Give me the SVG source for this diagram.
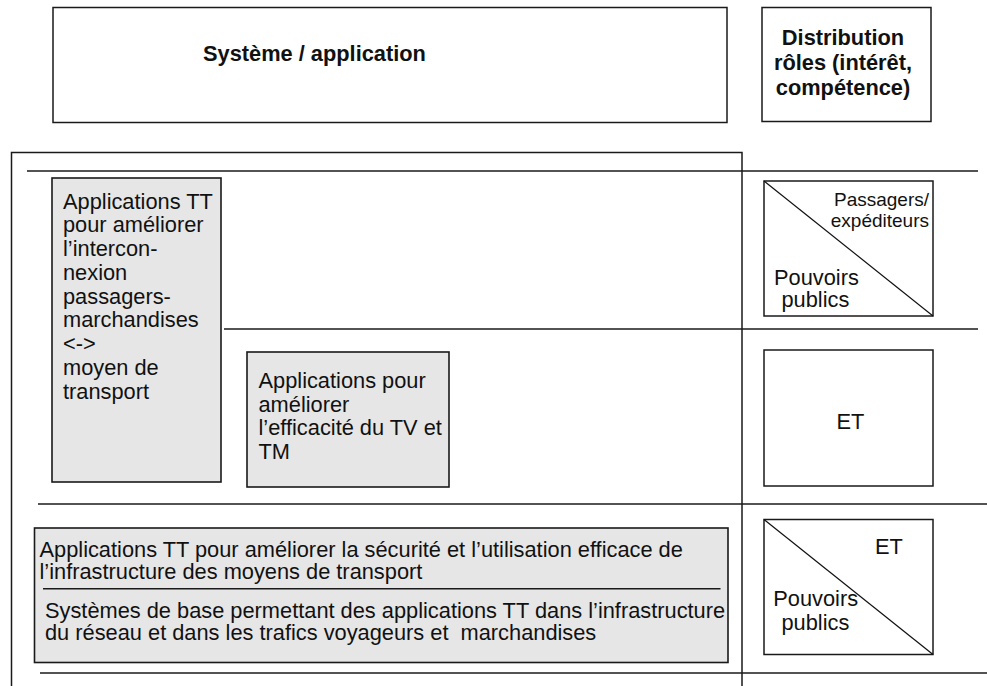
<svg xmlns="http://www.w3.org/2000/svg" width="987" height="686" viewBox="0 0 987 686">
<style>
text{font-family:"Liberation Sans",Arial,Helvetica,sans-serif;font-size:21.8px;fill:#111}
.b{font-weight:bold}
.sm{font-size:19px}
.box{fill:#fff;stroke:#1a1a1a;stroke-width:1.5}
.gbox{fill:#e6e6e6;stroke:#1a1a1a;stroke-width:1.6}
.ln{stroke:#1a1a1a;stroke-width:1.5;fill:none}
.thin{stroke:#111;stroke-width:1.2;fill:none}
</style>
<rect width="987" height="686" fill="#fff"/>
<g id="connectors">
<path class="ln" d="M11.5,686 V152.5 H742 V686"/>
<line class="ln" x1="27" y1="171" x2="978" y2="171"/>
<line class="ln" x1="224" y1="329" x2="978" y2="329"/>
<line class="ln" x1="38" y1="504" x2="987" y2="504"/>
<line class="ln" x1="40" y1="673" x2="987" y2="673"/>
</g>
<g id="header-system">
<rect class="box" x="53" y="7.5" width="674" height="115"/>
<text class="b" x="203" y="61">Système / application</text>
</g>
<g id="header-roles">
<rect class="box" x="762" y="7.5" width="169" height="114"/>
<text class="b" text-anchor="middle"><tspan x="843" y="45">Distribution</tspan><tspan x="843" y="70">rôles (intérêt,</tspan><tspan x="843" y="95">compétence)</tspan></text>
</g>
<g id="app-interconnexion">
<rect class="gbox" x="52" y="178" width="169" height="304"/>
<text><tspan x="63" y="208.6">Applications TT</tspan><tspan x="63" y="232.3">pour améliorer</tspan><tspan x="63" y="256">l’intercon-</tspan><tspan x="63" y="279.8">nexion</tspan><tspan x="63" y="303.6">passagers-</tspan><tspan x="63" y="327.4">marchandises</tspan><tspan x="63" y="351.2">&lt;-&gt;</tspan><tspan x="63" y="375">moyen de</tspan><tspan x="63" y="398.7">transport</tspan></text>
</g>
<g id="app-efficacite">
<rect class="gbox" x="247" y="352" width="202" height="135"/>
<text><tspan x="258.5" y="388">Applications pour</tspan><tspan x="258.5" y="411.7">améliorer</tspan><tspan x="258.5" y="435.4">l’efficacité du TV et</tspan><tspan x="258.5" y="459">TM</tspan></text>
</g>
<g id="app-infrastructure">
<rect class="gbox" x="34.5" y="528" width="693.5" height="134.5"/>
<text><tspan x="39.5" y="556.5">Applications TT pour améliorer la sécurité et l’utilisation efficace de</tspan><tspan x="39.5" y="578.5">l’infrastructure des moyens de transport</tspan></text>
<line class="ln" x1="43" y1="588.7" x2="720.5" y2="588.7"/>
<text xml:space="preserve"><tspan x="45" y="617.5">Systèmes de base permettant des applications TT dans l’infrastructure</tspan><tspan x="45" y="639.5">du réseau et dans les trafics voyageurs et  marchandises</tspan></text>
</g>
<g id="role-1">
<rect class="box" x="764" y="181" width="169" height="135"/>
<line class="thin" x1="764" y1="181" x2="933" y2="316"/>
<text class="sm" text-anchor="end"><tspan x="929" y="206">Passagers/</tspan><tspan x="929" y="227">expéditeurs</tspan></text>
<text><tspan x="774" y="284.5">Pouvoirs</tspan><tspan x="781.5" y="307">publics</tspan></text>
</g>
<g id="role-2">
<rect class="box" x="764" y="350" width="169" height="136"/>
<text x="836.5" y="428.5">ET</text>
</g>
<g id="role-3">
<rect class="box" x="764" y="519.5" width="169" height="135"/>
<line class="thin" x1="764" y1="519.5" x2="933" y2="654.5"/>
<text x="875" y="554.3">ET</text>
<text><tspan x="773.3" y="605.7">Pouvoirs</tspan><tspan x="781.5" y="630">publics</tspan></text>
</g>
</svg>
